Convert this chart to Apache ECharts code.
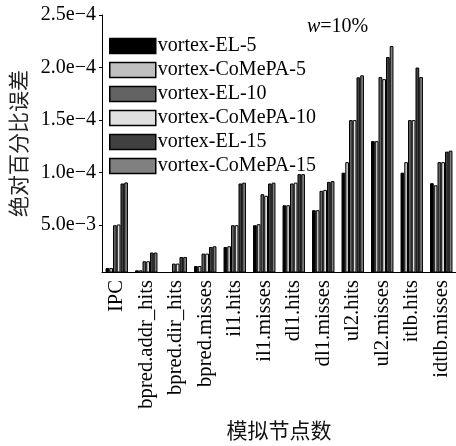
<!DOCTYPE html>
<html>
<head>
<meta charset="utf-8">
<script src="https://cdn.jsdelivr.net/npm/echarts@6/dist/echarts.min.js"></script>
<style>html,body{margin:0;padding:0;background:#fff;}#c{width:456px;height:446px;}</style>
</head>
<body>
<div id="c"></div>
<script>
const categories = ['IPC','bpred.addr_hits','bpred.dir_hits','bpred.misses','il1.hits','il1.misses','dl1.hits','dl1.misses','ul2.hits','ul2.misses','itlb.hits','idtlb.misses'];
const seriesNames = ['vortex-EL-5','vortex-CoMePA-5','vortex-EL-10','vortex-CoMePA-10','vortex-EL-15','vortex-CoMePA-15'];
const elFive      = [0.093e-4,0.071e-4,null,0.112e-4,0.293e-4,0.50e-4,0.69e-4,0.643e-4,1.00e-4,1.30e-4,1.00e-4,0.90e-4];
const comepaFive  = [0.093e-4,0.071e-4,null,0.112e-4,0.300e-4,0.51e-4,0.69e-4,0.643e-4,1.10e-4,1.30e-4,1.10e-4,0.88e-4];
const elTen       = [0.50e-4,0.157e-4,0.135e-4,0.23e-4,0.50e-4,0.795e-4,0.897e-4,0.827e-4,1.50e-4,1.91e-4,1.50e-4,1.10e-4];
const comepaTen   = [0.507e-4,0.157e-4,0.135e-4,0.23e-4,0.50e-4,0.78e-4,0.905e-4,0.836e-4,1.50e-4,1.89e-4,1.50e-4,1.10e-4];
const elFifteen   = [0.897e-4,0.24e-4,0.198e-4,0.293e-4,0.897e-4,0.897e-4,0.986e-4,0.912e-4,1.907e-4,2.10e-4,2.00e-4,1.20e-4];
const comepaFifteen=[0.907e-4,0.24e-4,0.198e-4,0.30e-4,0.905e-4,0.905e-4,0.986e-4,0.92e-4,1.926e-4,2.205e-4,1.91e-4,1.21e-4];
const tickValues = [0.5e-4,1.0e-4,1.5e-4,2.0e-4,2.5e-4];
const tickLabels = ['5.0e\u22123','1.0e\u22124','1.5e\u22124','2.0e\u22124','2.5e\u22124'];
const yName = '绝对百分比误差';
const xName = '模拟节点数';
const annotation = '=10%';

const colors = ['#000000','#c0c0c0','#636363','#e0e0e0','#404040','#808080'];
const values = [elFive, comepaFive, elTen, comepaTen, elFifteen, comepaFifteen];
const serif = 'Liberation Serif';

const chart = echarts.init(document.getElementById('c'), null, {renderer:'canvas'});
chart.setOption({
  animation:false,
  backgroundColor:'#fff',
  grid:{left:101, top:15, width:361, height:257, containLabel:false},
  legend:{
    orient:'vertical', left:109, top:36, padding:0, itemWidth:46, itemHeight:15, itemGap:4,
    icon:'rect',
    itemStyle:{borderColor:'#000', borderWidth:1.5},
    textStyle:{fontFamily:serif, fontSize:20, color:'#000', padding:[0,0,0,-3]},
    data:seriesNames
  },
  xAxis:{
    type:'category', data:categories,
    name:xName, nameLocation:'middle', nameGap:148,
    nameTextStyle:{fontFamily:'Noto Sans CJK SC', fontSize:21, color:'#111'},
    axisLine:{lineStyle:{color:'#000', width:1}},
    axisTick:{alignWithLabel:true, length:5, lineStyle:{color:'#000'}},
    axisLabel:{rotate:90, interval:0, fontFamily:serif, fontSize:20.6, color:'#000', margin:8}
  },
  yAxis:{
    type:'value', min:0.055e-4, max:2.5e-4,
    name:yName, nameLocation:'middle', nameGap:73, nameRotate:90,
    nameTextStyle:{fontFamily:'Noto Sans CJK SC', fontSize:21, color:'#222'},
    splitLine:{show:false},
    axisLine:{show:true, lineStyle:{color:'#000', width:1}},
    axisTick:{show:true, length:3, customValues:tickValues, lineStyle:{color:'#000'}},
    axisLabel:{customValues:tickValues, fontFamily:serif, fontSize:20, color:'#000', margin:6,
      formatter:function(v){ for(let i=0;i<tickValues.length;i++){ if(Math.abs(v-tickValues[i])<1e-9) return tickLabels[i]; } return ''; }}
  },
  graphic:[{
    type:'text', left:307, top:17,
    style:{text:'{i|w}{n|'+annotation+'}', rich:{
      i:{fontFamily:serif, fontSize:20, fontStyle:'italic', fill:'#000'},
      n:{fontFamily:serif, fontSize:20, fill:'#000'}}}
  }],
  series: seriesNames.map((n,i)=>({
    name:n, type:'bar', data:values[i], barGap:'0%', barCategoryGap:'24%',
    itemStyle:{color:colors[i], borderColor:'#000', borderWidth:1},
    emphasis:{disabled:true}
  }))
});
</script>
</body>
</html>
